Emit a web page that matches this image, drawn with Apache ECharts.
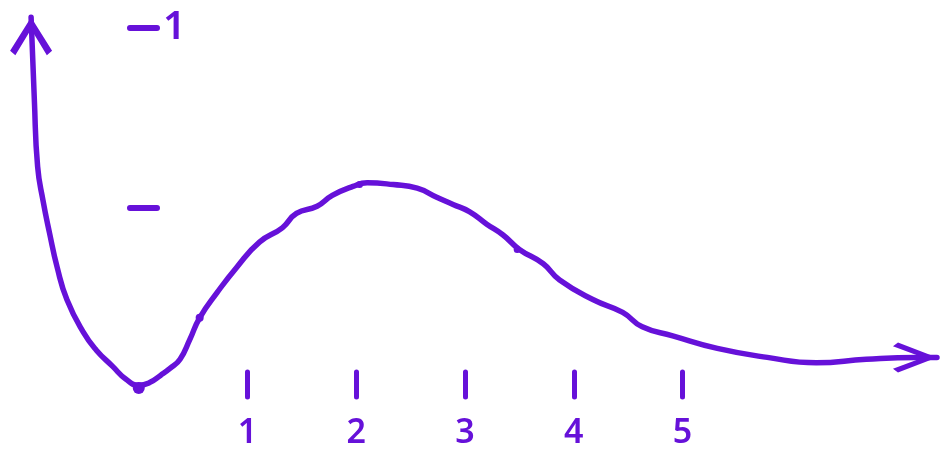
<!DOCTYPE html>
<html>
<head>
<meta charset="utf-8">
<script src="https://cdn.jsdelivr.net/npm/echarts@6/dist/echarts.min.js"></script>
<style>
  html, body { margin: 0; padding: 0; background: #fff; }
  #chart { width: 946px; height: 459px; }
</style>
</head>
<body>
<div id="chart"></div>
<script>
  // hand drawn curve
  const curveX = [-0.99, -0.96, -0.93, -0.88, -0.82, -0.75, -0.66, -0.51, -0.39, -0.24, -0.12, 0.0, 0.1, 0.2, 0.29, 0.38, 0.47, 0.56, 0.72, 0.9, 1.11, 1.32, 1.45, 1.64, 1.78, 1.97, 2.1, 2.34, 2.56, 2.74, 2.89, 3.04, 3.2, 3.35, 3.5, 3.72, 3.87, 4.18, 4.45, 4.63, 4.91, 5.32, 5.78, 6.23, 6.69, 7.15, 7.34];
  const curveY = [1.06, 0.6, 0.23, 0.04, -0.14, -0.33, -0.51, -0.69, -0.79, -0.88, -0.95, -0.985, -0.97, -0.93, -0.89, -0.84, -0.73, -0.61, -0.47, -0.33, -0.19, -0.11, -0.03, 0.01, 0.07, 0.12, 0.14, 0.13, 0.11, 0.06, 0.02, -0.02, -0.09, -0.15, -0.23, -0.31, -0.4, -0.51, -0.58, -0.66, -0.71, -0.78, -0.83, -0.86, -0.84, -0.83, -0.83];
  // little dots drawn on the curve
  const markX = [0, 0.56, 2.03, 3.48];
  const markY = [-1.0, -0.61, 0.13, -0.23];
  const markSize = [12, 8, 7, 7];
  const xTicks = [1, 2, 3, 4, 5];
  const yTicks = [0, 1];
  const yLabels = [1];

  const ink = "#6611d9";
  const chevron = "path://M20,0 L40,31 L35,35 L20,11 L5,35 L0,31 Z";

  let chart = echarts.init(document.getElementById("chart"));

  let curveData = curveX.map(function (x, i) {
    return [x, curveY[i]];
  });
  curveData[0] = {
    value: curveData[0],
    symbol: chevron,
    symbolSize: [42, 38],
    symbolOffset: [0, 19],
  };
  let last = curveData.length - 1;
  curveData[last] = {
    value: curveData[last],
    symbol: chevron,
    symbolSize: [30, 44],
    symbolRotate: -90,
    symbolOffset: [-22, 0],
  };

  let option = {
    animation: false,
    grid: {
      left: 30,
      right: -62.75,
      top: -152,
      bottom: -109,
      outerBoundsMode: "none",
    },
    xAxis: {
      type: "value",
      min: -1,
      max: 8,
      offset: -196,
      axisLine: { show: false, onZero: false },
      splitLine: { show: false },
      axisTick: {
        show: true,
        customValues: xTicks,
        length: 25,
        lineStyle: { color: ink, width: 5, cap: "round" },
      },
      axisLabel: {
        customValues: xTicks,
        margin: 44,
        color: ink,
        fontSize: 34,
        fontFamily: "Noto Sans",
        fontWeight: 600,
      },
    },
    yAxis: {
      type: "value",
      min: -2,
      max: 2,
      offset: -127,
      axisLine: { show: false, onZero: false },
      splitLine: { show: false },
      axisTick: {
        show: true,
        customValues: yTicks,
        length: 27,
        lineStyle: { color: ink, width: 6, cap: "round" },
      },
      axisLabel: {
        customValues: yLabels,
        inside: true,
        margin: 6,
        color: ink,
        fontSize: 40,
        fontFamily: "Noto Sans",
        fontWeight: 600,
      },
    },
    series: [
      {
        type: "line",
        data: curveData,
        smooth: 0.5,
        clip: false,
        symbol: "none",
        lineStyle: { color: ink, width: 5.5, cap: "round", join: "round" },
        itemStyle: { color: ink },
      },
      {
        type: "scatter",
        data: markX.map(function (x, i) {
          return { value: [x, markY[i]], symbolSize: markSize[i] };
        }),
        clip: false,
        itemStyle: { color: ink, opacity: 1 },
      },
    ],
  };
  option && chart.setOption(option);
</script>
</body>
</html>
